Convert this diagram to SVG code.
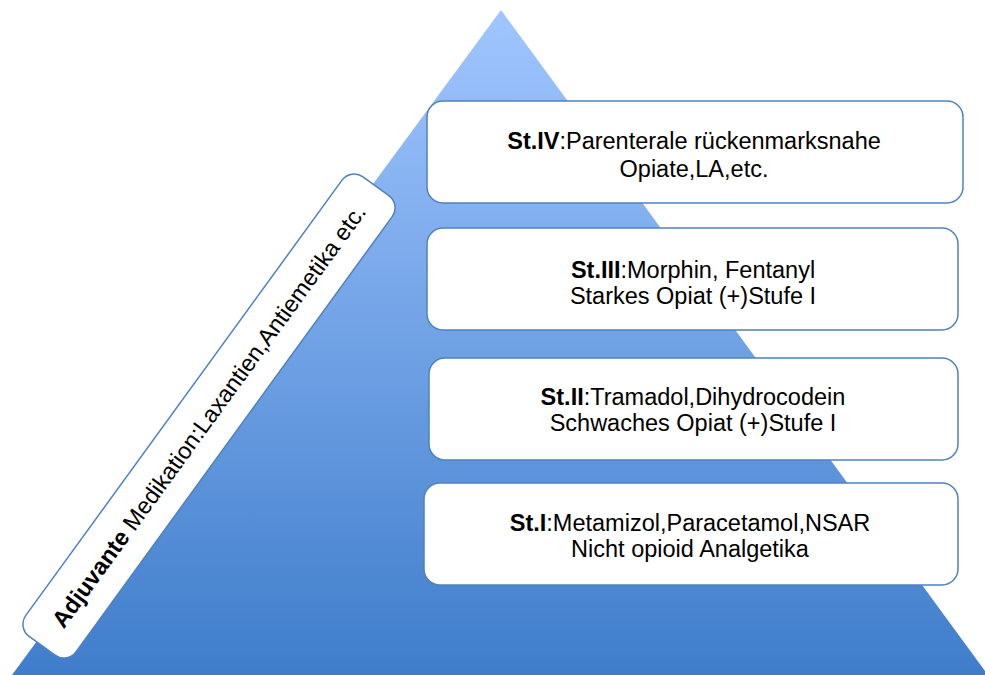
<svg xmlns="http://www.w3.org/2000/svg" width="985" height="675" viewBox="0 0 985 675">
<defs>
<linearGradient id="tri" x1="0" y1="10" x2="0" y2="675" gradientUnits="userSpaceOnUse">
<stop offset="0" stop-color="#A1C6FF"/>
<stop offset="1" stop-color="#3F7DCB"/>
</linearGradient>
</defs>
<style>
.box{fill:#FFFFFF;stroke:#4F81BD;stroke-width:1.5}
.t{font-family:"Liberation Sans",Arial,sans-serif;font-size:23.5px;fill:#000000;text-anchor:middle}
.b{font-weight:bold}
</style>
<rect width="985" height="675" fill="#FFFFFF"/>
<g id="pyramid">
<polygon points="501,10 12,675 988,675" fill="url(#tri)"/>
</g>
<g id="adjuvant">
<rect class="box" x="-284" y="-31" width="568" height="62" rx="15" transform="translate(209,416) rotate(-54)"/>
<text class="t" transform="translate(209,416) rotate(-54)" y="8"><tspan class="b">Adjuvante</tspan> Medikation:Laxantien,Antiemetika etc.</text>
</g>
<g id="st4">
<rect class="box" x="427" y="101" width="536" height="102" rx="16"/>
<text class="t" x="694" y="149"><tspan class="b">St.IV</tspan>:Parenterale rückenmarksnahe</text>
<text class="t" x="694" y="177">Opiate,LA,etc.</text>
</g>
<g id="st3">
<rect class="box" x="427" y="228" width="531" height="102" rx="16"/>
<text class="t" x="693" y="278"><tspan class="b">St.III</tspan>:Morphin, Fentanyl</text>
<text class="t" x="693" y="304">Starkes Opiat (+)Stufe I</text>
</g>
<g id="st2">
<rect class="box" x="429" y="358" width="529" height="102" rx="16"/>
<text class="t" x="693" y="405"><tspan class="b">St.II</tspan>:Tramadol,Dihydrocodein</text>
<text class="t" x="693" y="431">Schwaches Opiat (+)Stufe I</text>
</g>
<g id="st1">
<rect class="box" x="424" y="483" width="534" height="102" rx="16"/>
<text class="t" x="690" y="531"><tspan class="b">St.I</tspan>:Metamizol,Paracetamol,NSAR</text>
<text class="t" x="690" y="557">Nicht opioid Analgetika</text>
</g>
<g id="connectors"/>
</svg>
